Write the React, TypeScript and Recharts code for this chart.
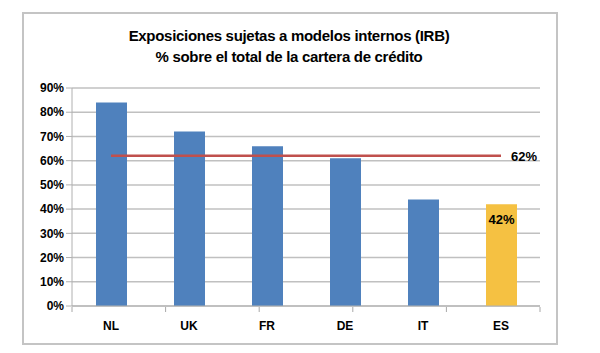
import React from 'react';
import {
  ComposedChart,
  Bar,
  Line,
  Cell,
  XAxis,
  YAxis,
  CartesianGrid,
  LabelList,
} from 'recharts';

const countries = ['NL', 'UK', 'FR', 'DE', 'IT', 'ES'];
const irbShare = [84, 72, 66, 61, 44, 42];
const average = [62, 62, 62, 62, 62, 62];
const yTicks = [0, 10, 20, 30, 40, 50, 60, 70, 80, 90];
const boundaryTicks = [0, 1, 2, 3, 4, 5, 6];

const BLUE = '#4F81BD';
const YELLOW = '#F5C142';
const RED = '#C0504D';
const FONT = "'Liberation Sans Narrow', 'Arial Narrow', 'Liberation Sans', sans-serif";

const data = countries.map((c, i) => ({ name: c, value: irbShare[i], avg: average[i] }));

const pct = (v: number) => `${v}%`;

const App: React.FC = () => {
  const last = countries.length - 1;
  return (
    <div style={{ position: 'fixed', left: 0, top: 0, width: 600, height: 353, background: '#fff' }}>
      <div
        style={{
          position: 'absolute',
          left: 22,
          top: 12,
          width: 532,
          height: 329,
          border: '2px solid #c4c4c4',
        }}
      />
      <div
        style={{
          position: 'absolute',
          left: 0,
          width: 578,
          top: 25,
          textAlign: 'center',
          fontFamily: FONT,
          fontWeight: 'bold',
          fontSize: 15,
          lineHeight: '21px',
          color: '#000',
          letterSpacing: -0.3,
        }}
      >
        Exposiciones sujetas a modelos internos (IRB)
        <br />% sobre el total de la cartera de crédito
      </div>
      <div style={{ position: 'absolute', left: 0, top: 0 }}>
        <ComposedChart
          width={600}
          height={353}
          data={data}
          margin={{ top: 88, right: 60, left: 22, bottom: 45 }}
        >
          <CartesianGrid vertical={false} stroke="#c0c0c0" strokeWidth={1.5} />
          <XAxis
            xAxisId="bounds"
            type="number"
            domain={[0, 6]}
            ticks={boundaryTicks}
            allowDataOverflow
            height={1}
            axisLine={false}
            tick={() => <g />}
            tickLine={{ stroke: '#a8a8a8' }}
            tickSize={5}
          />
          <XAxis
            dataKey="name"
            height={1}
            axisLine={{ stroke: '#b0b0b0' }}
            tickLine={false}
            tick={{ fontSize: 12, fontWeight: 'bold', fill: '#000', fontFamily: FONT }}
            tickMargin={9}
          />
          <YAxis
            width={50}
            domain={[0, 90]}
            ticks={yTicks}
            tickFormatter={pct}
            axisLine={{ stroke: '#b0b0b0' }}
            tickLine={{ stroke: '#b0b0b0' }}
            tickSize={6}
            tick={{ fontSize: 12, fontWeight: 'bold', fill: '#000', fontFamily: FONT }}
          />
          <Bar dataKey="value" barSize={31} isAnimationActive={false}>
            {data.map((d, i) => (
              <Cell key={d.name} fill={i === last ? YELLOW : BLUE} />
            ))}
            <LabelList
              dataKey="value"
              content={(p: any) =>
                p.index === last ? (
                  <text
                    x={p.x + p.width / 2}
                    y={p.y + 20}
                    textAnchor="middle"
                    fontSize={13}
                    fontWeight="bold"
                    fontFamily={FONT}
                    fill="#000"
                  >
                    {pct(p.value)}
                  </text>
                ) : null
              }
            />
          </Bar>
          <Line
            dataKey="avg"
            stroke={RED}
            strokeWidth={2.5}
            dot={false}
            isAnimationActive={false}
          >
            <LabelList
              dataKey="avg"
              content={(p: any) =>
                p.index === last ? (
                  <text
                    x={p.x + 10}
                    y={p.y + 5}
                    fontSize={13}
                    fontWeight="bold"
                    fontFamily={FONT}
                    fill="#000"
                  >
                    {pct(p.value)}
                  </text>
                ) : null
              }
            />
          </Line>
        </ComposedChart>
      </div>
    </div>
  );
};

export default App;
